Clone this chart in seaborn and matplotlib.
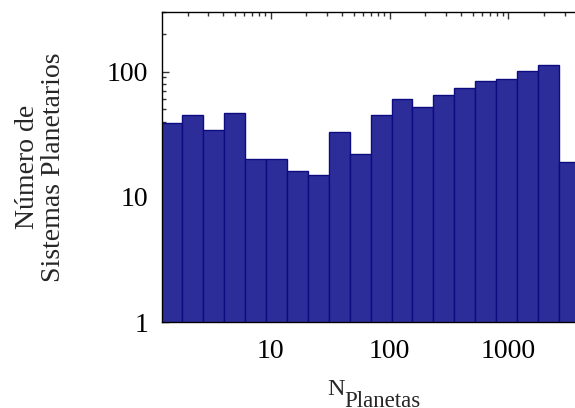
import numpy as np
import pandas as pd
import matplotlib
matplotlib.use("Agg")
import matplotlib.pyplot as plt
import seaborn as sns

# Data
bin_edges = [1.2, 1.8, 2.7, 4.05, 6.08, 9.11, 13.7, 20.5, 30.8, 46.1, 69.2,
             104, 156, 234, 350, 526, 788, 1182, 1774, 2660, 3990]
counts = [39, 45, 34, 47, 20, 20, 16, 15, 33, 22, 45, 60, 52, 65, 74, 84,
          88, 101, 113, 19]
x_ticks = [10, 100, 1000]
x_tick_labels = ["10", "100", "1000"]
y_ticks = [1, 10, 100]
y_tick_labels = ["1", "10", "100"]

edges = np.array(bin_edges)
centers = np.sqrt(edges[:-1] * edges[1:])
df = pd.DataFrame({"n": centers, "w": counts})

sns.set_style("white")
plt.rcParams["font.family"] = "serif"
plt.rcParams["font.serif"] = ["Liberation Serif", "DejaVu Serif"]

fig = plt.figure(figsize=(5.75, 4.08), dpi=100)
W, H = 575, 408
ax = fig.add_axes([162 / W, 1 - 322 / H, (580 - 162) / W, (322 - 12) / H])

sns.histplot(data=df, x="n", weights="w", bins=[float(v) for v in np.log10(edges)],
             log_scale=True, stat="count", color="#2d2d99", edgecolor="#0c0c80",
             linewidth=1.0, alpha=1.0, ax=ax)
ax.set_yscale("log")
ax.set_xlim(1.22, 4000)
ax.set_ylim(1, 300)

ax.set_xticks(x_ticks)
ax.set_xticklabels(x_tick_labels)
ax.set_yticks(y_ticks)
ax.set_yticklabels(y_tick_labels)

fs = 20
ax.tick_params(axis="both", which="both", direction="in", labelsize=fs,
               top=True, right=False, bottom=True, left=True, colors="#333333",
               labelcolor="black")
ax.tick_params(axis="both", which="major", length=5, width=1)
ax.tick_params(axis="both", which="minor", length=3, width=1)
ax.tick_params(axis="x", which="major", pad=12)
ax.tick_params(axis="y", which="major", pad=10)

for s in ax.spines.values():
    s.set_visible(True)
    s.set_color("black")
    s.set_linewidth(1.0)

ax.set_ylabel("Número de\nSistemas Planetarios", fontsize=fs, labelpad=29,
              linespacing=1.1)
ax.set_xlabel("")
# x label: N with subscript "Planetas"
t = fig.text(327 / W, 1 - 395 / H, "N", fontsize=17.5, ha="left", va="baseline")
ax.annotate("Planetas", xy=(1, 0), xycoords=t, xytext=(0, -5),
            textcoords="offset points", fontsize=16.5, ha="left",
            va="baseline")

fig.savefig("out.png", dpi=100)
